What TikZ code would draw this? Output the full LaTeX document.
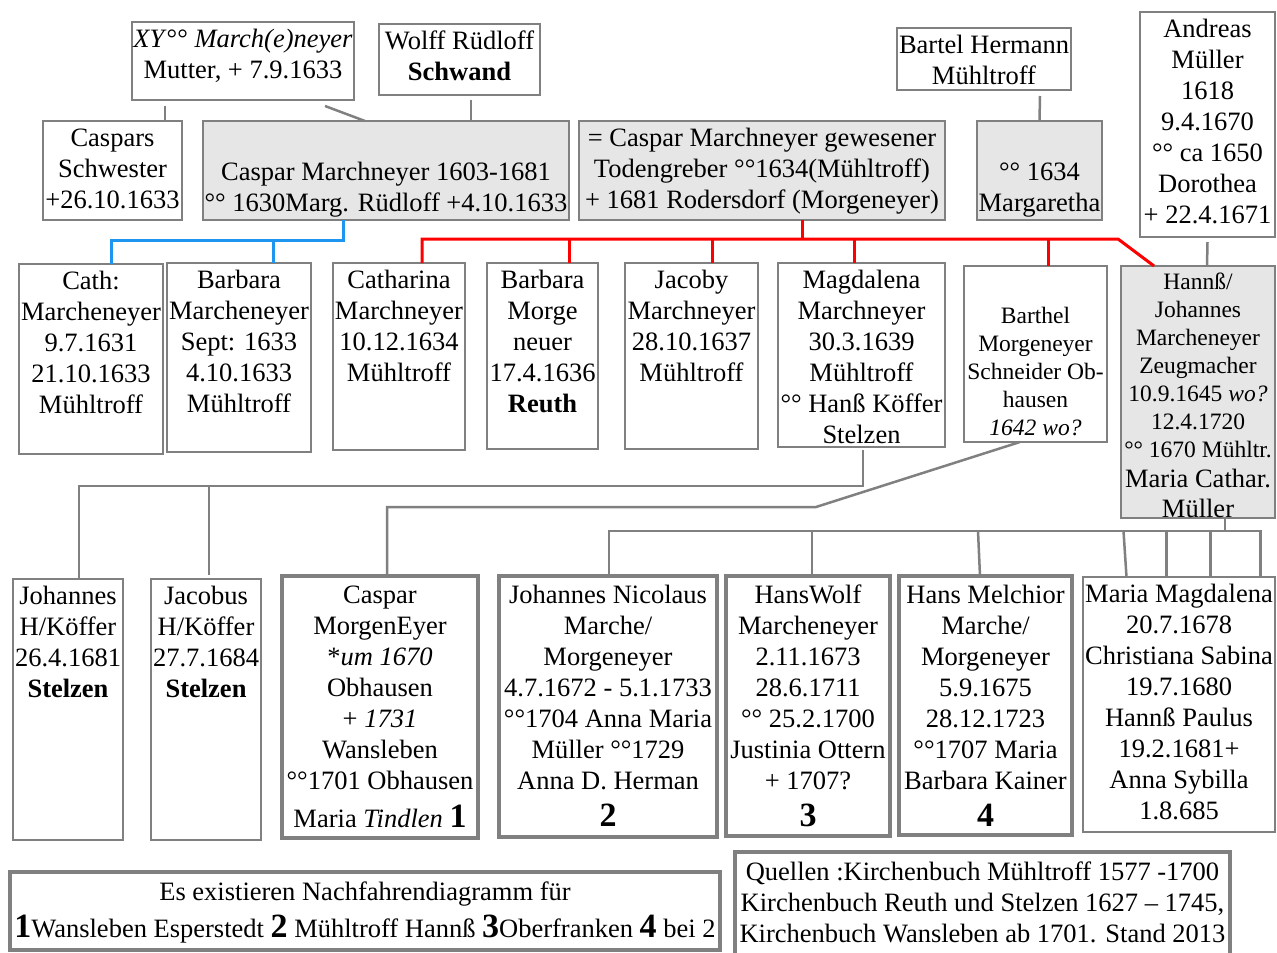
\documentclass[tikz,border=0pt]{standalone}
\usepackage{fontspec}
\setmainfont{Liberation Serif}
\definecolor{linegrey}{RGB}{128,128,128}
\definecolor{cellgrey}{RGB}{230,230,230}
\definecolor{famred}{RGB}{255,0,0}
\definecolor{famblue}{RGB}{30,150,240}
\newcommand{\famcell}[3]{\parbox[t][#2][t]{#1}{\centering\strut#3}}
\newcommand{\bignum}[1]{{\fontsize{34}{34}\selectfont\bfseries #1}}

\begin{document}
\begin{tikzpicture}[x=1pt, y=-1pt]
    \tikzstyle{person} = [rectangle, draw=linegrey, line width=2.5pt,
        inner xsep=0pt, inner ysep=4pt, outer sep=0pt, anchor=north west,
        font=\fontsize{26.5}{31}\selectfont]
    \tikzstyle{married} = [person, fill=cellgrey]
    \tikzstyle{heir} = [person, line width=4.5pt, inner ysep=5.5pt]
    \tikzstyle{notebox} = [person, line width=3.5pt, inner ysep=6.5pt]
    \tikzstyle{smallfont} = [font=\fontsize{23.5}{28}\selectfont]
    \tikzstyle{link} = [draw=linegrey, line width=2.5pt]
    \tikzstyle{noteline} = [draw=linegrey, line width=3.5pt]
    \tikzstyle{redlink} = [draw=famred, line width=3pt]
    \tikzstyle{bluelink} = [draw=famblue, line width=3pt]

    \useasboundingbox (0,0) rectangle (1277,953);

    % parents
    \node [person] (xy) at (132,22) {\famcell{222pt}{70pt}{\textit{XY}°° \textit{March(e)neyer}\\Mutter, + 7.9.1633}};
    \node [person] (wolff) at (379,24) {\famcell{161pt}{63pt}{Wolff  Rüdloff\\\textbf{Schwand}}};
    \node [person] (bartel) at (897,28) {\famcell{174pt}{54pt}{Bartel Hermann\\Mühltroff}};
    \node [person] (andreas) at (1140,12) {\famcell{135pt}{217pt}{Andreas\\Müller\\1618\\9.4.1670\\°° ca 1650\\Dorothea\\+ 22.4.1671}};

    % Caspar and his wives
    \node [person] (schwester) at (43,121) {\famcell{139pt}{91pt}{Caspars\\Schwester\\+26.10.1633}};
    \node [married] (caspar) at (203,121) {\famcell{366pt}{91pt}{\\[3pt]Caspar Marchneyer 1603-1681\\°° 1630Marg. Rüdloff +4.10.1633}};
    \node [married] (todgr) at (579,121) {\famcell{366pt}{91pt}{= Caspar Marchneyer  gewesener\\Todengreber   °°1634(Mühltroff)\\+ 1681 Rodersdorf (Morgeneyer)}};
    \node [married] (margaretha) at (977,121) {\famcell{125pt}{91pt}{\\[3pt]°° 1634\\Margaretha}};

    % children
    \node [person] (cath) at (19,264) {\famcell{144pt}{182pt}{Cath:\\Marcheneyer\\9.7.1631\\21.10.1633\\Mühltroff}};
    \node [person] (barbm) at (167,263) {\famcell{144pt}{181pt}{Barbara\\Marcheneyer\\Sept: 1633\\4.10.1633\\Mühltroff}};
    \node [person] (catharina) at (333,263) {\famcell{132pt}{179pt}{Catharina\\Marchneyer\\10.12.1634\\Mühltroff}};
    \node [person] (morge) at (487,263) {\famcell{111pt}{178pt}{Barbara\\Morge\\neuer\\17.4.1636\\\textbf{Reuth}}};
    \node [person] (jacoby) at (625,263) {\famcell{133pt}{178pt}{Jacoby\\Marchneyer\\28.10.1637\\Mühltroff}};
    \node [person] (magdalena) at (778,263) {\famcell{167pt}{176pt}{Magdalena\\Marchneyer\\30.3.1639\\Mühltroff\\°° Hanß Köffer\\Stelzen}};
    \node [person, smallfont] (barthel) at (964,266) {\famcell{143pt}{168pt}{\\[6pt]Barthel\\Morgeneyer\\Schneider Ob-\\hausen\\\textit{1642 wo?}}};
    \node [married, smallfont] (hannss) at (1121,266) {\famcell{154pt}{244pt}{Hannß/\\Johannes\\Marcheneyer\\Zeugmacher\\10.9.1645 \textit{wo?}\\12.4.1720\\°° 1670 Mühltr.\par\fontsize{26.5}{30}\selectfont Maria Cathar.\\Müller}};

    % grandchildren
    \node [person] (johannes) at (13,579) {\famcell{110pt}{253pt}{Johannes\\H/Köffer\\26.4.1681\\\textbf{Stelzen}}};
    \node [person] (jacobus) at (151,579) {\famcell{110pt}{253pt}{Jacobus\\H/Köffer\\27.7.1684\\\textbf{Stelzen}}};
    \node [heir] (cme) at (282,576) {\famcell{196pt}{251pt}{Caspar\\MorgenEyer\\{}*\textit{um 1670}\\Obhausen\\+ \textit{1731}\\Wansleben\\°°1701 Obhausen\\[7pt]Maria \textit{Tindlen} \bignum{1}}};
    \node [heir] (jn) at (499,576) {\famcell{218pt}{250pt}{Johannes Nicolaus\\Marche/\\Morgeneyer\\4.7.1672 - 5.1.1733\\°°1704 Anna Maria\\Müller °°1729\\Anna D. Herman\\[6pt]\bignum{2}}};
    \node [heir] (hanswolf) at (726,576) {\famcell{164pt}{249pt}{HansWolf\\Marcheneyer\\2.11.1673\\28.6.1711\\°° 25.2.1700\\Justinia Ottern\\+ 1707?\\[6pt]\bignum{3}}};
    \node [heir] (melchior) at (899,576) {\famcell{173pt}{248pt}{Hans Melchior\\Marche/\\Morgeneyer\\5.9.1675\\28.12.1723\\°°1707  Maria\\Barbara Kainer\\[6pt]\bignum{4}}};
    \node [person] (mariam) at (1083,577) {\famcell{192pt}{247pt}{Maria Magdalena\\20.7.1678\\Christiana Sabina\\19.7.1680\\Hannß Paulus\\19.2.1681+\\Anna Sybilla\\1.8.685}};

    % notes
    \node [notebox] (notes) at (10,872) {\famcell{710pt}{65pt}{Es existieren  Nachfahrendiagramm für\\[4pt]\bignum{1}Wansleben Esperstedt \bignum{2} Mühltroff Hannß \bignum{3}Oberfranken \bignum{4} bei 2}};
    \node [notebox, draw=none] (quellen) at (735,852) {\famcell{495pt}{88pt}{Quellen :Kirchenbuch Mühltroff 1577 -1700\\Kirchenbuch Reuth und Stelzen 1627 – 1745,\\Kirchenbuch Wansleben ab 1701. Stand 2013}};
    \draw [noteline] (quellen.south west) |- (quellen.north east) -- (quellen.south east);

    % parents to children
    \draw [link] ([xshift=-78pt,yshift=-6pt]xy.south) -- ([xshift=52.5pt]schwester.north);
    \draw [link] ([xshift=82pt,yshift=-6pt]xy.south) -- ([xshift=-21pt]caspar.north);
    \draw [link] ([xshift=11.5pt,yshift=-5pt]wolff.south) -- ([xshift=85pt]caspar.north);
    \draw [link] ([xshift=56pt,yshift=-6pt]bartel.south) -- (margaretha.north);
    \draw [link] ([yshift=-5pt]andreas.south) -- ([xshift=9pt]hannss.north);

    % first marriage
    \coordinate (bluebus) at (0,240);
    \draw [bluelink] ([xshift=-43pt]caspar.south) |- ([xshift=20pt]cath.north |- bluebus) -- ([xshift=20pt]cath.north);
    \draw [bluelink] ([xshift=34pt]barbm.north) -- ([xshift=34pt]barbm.north |- bluebus);

    % second marriage
    \coordinate (redend) at (1118,239);
    \draw [redlink] ([xshift=23pt]catharina.north) |- (redend) -- ([xshift=33pt]hannss.north west);
    \draw [redlink] ([xshift=40pt]todgr.south) -- ([xshift=40pt]todgr.south |- redend);
    \draw [redlink] ([xshift=26.5pt]morge.north) -- ([xshift=26.5pt]morge.north |- redend);
    \draw [redlink] ([xshift=20.5pt]jacoby.north) -- ([xshift=20.5pt]jacoby.north |- redend);
    \draw [redlink] ([xshift=-7.5pt]magdalena.north) -- ([xshift=-7.5pt]magdalena.north |- redend);
    \draw [redlink] ([xshift=12.5pt]barthel.north) -- ([xshift=12.5pt]barthel.north |- redend);

    % grandchildren
    \coordinate (koefferbus) at (0,486);
    \draw [link] ([xshift=1.5pt,yshift=-3pt]magdalena.south) |- ([xshift=11pt]johannes.north |- koefferbus) -- ([xshift=11pt]johannes.north);
    \draw [link] ([xshift=3pt]jacobus.north |- koefferbus) -- ([xshift=3pt,yshift=4pt]jacobus.north);

    \coordinate (obhbend) at (816,507);
    \draw [link] ([xshift=-15.5pt]barthel.south) -- (obhbend) -| ([xshift=7pt]cme.north);

    \coordinate (kidsbus) at (0,531);
    \draw [link] ([xshift=27pt]hannss.south) -- ([xshift=27pt]hannss.south |- kidsbus);
    \draw [link] ([xshift=1pt]jn.north) |- ([xshift=81.5pt]mariam.north |- kidsbus) -- ([xshift=81.5pt]mariam.north);
    \draw [link] ([xshift=4pt]hanswolf.north) -- ([xshift=4pt]hanswolf.north |- kidsbus);
    \draw [link] ([xshift=-5.5pt]melchior.north) -- ([xshift=-7.5pt]melchior.north |- kidsbus);
    \draw [link] ([xshift=-52.5pt]mariam.north) -- ([xshift=-55.5pt]mariam.north |- kidsbus);
    \draw [link] ([xshift=-12.5pt]mariam.north) -- ([xshift=-12.5pt]mariam.north |- kidsbus);
    \draw [link] ([xshift=31.5pt]mariam.north) -- ([xshift=31.5pt]mariam.north |- kidsbus);
\end{tikzpicture}
\end{document}
